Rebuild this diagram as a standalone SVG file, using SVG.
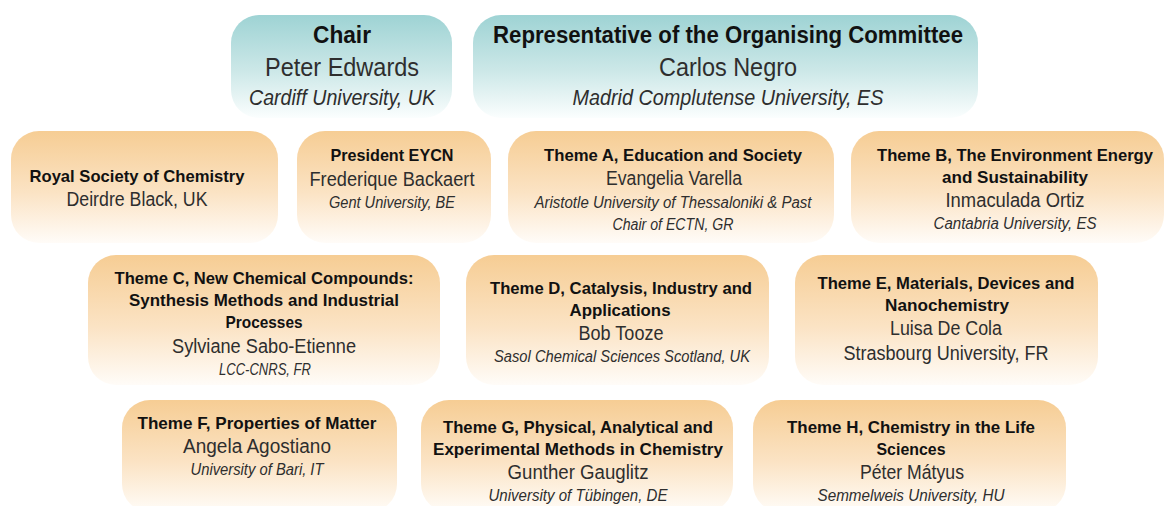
<svg xmlns="http://www.w3.org/2000/svg" width="1165" height="506" viewBox="0 0 1165 506">
<defs>
<linearGradient id="gTeal" x1="0" y1="0" x2="0" y2="1">
<stop offset="0" stop-color="#9ed3d4"/>
<stop offset="0.55" stop-color="#cde8e8"/>
<stop offset="1" stop-color="#fbfefe"/>
</linearGradient>
<linearGradient id="gOr" x1="0" y1="0" x2="0" y2="1">
<stop offset="0" stop-color="#f6cd94"/>
<stop offset="0.55" stop-color="#fbe3c4"/>
<stop offset="1" stop-color="#fffcf8"/>
</linearGradient>
<style>
.teal{fill:url(#gTeal)}
.or{fill:url(#gOr)}
text{font-family:"Liberation Sans",Arial,sans-serif;text-anchor:middle}
.hb{font-weight:bold;font-size:23px;fill:#111}
.hn{font-size:26px;fill:#2e2e2e}
.hi{font-style:italic;font-size:22px;fill:#2e2e2e}
.b{font-weight:bold;font-size:17px;fill:#111}
.n{font-size:20px;fill:#2e2e2e}
.i{font-style:italic;font-size:16px;fill:#2e2e2e}
</style>
</defs>
<rect width="1165" height="506" fill="#ffffff"/>
<g id="chair">
<rect class="teal" x="231" y="15" width="221" height="103" rx="28"/>
<text class="hb" x="342" y="43" textLength="58" lengthAdjust="spacingAndGlyphs">Chair</text>
<text class="hn" x="342" y="76" textLength="154" lengthAdjust="spacingAndGlyphs">Peter Edwards</text>
<text class="hi" x="342" y="105" textLength="186" lengthAdjust="spacingAndGlyphs">Cardiff University, UK</text>
</g>
<g id="representative">
<rect class="teal" x="473" y="15" width="505" height="103" rx="28"/>
<text class="hb" x="728" y="43" textLength="470" lengthAdjust="spacingAndGlyphs">Representative of the Organising Committee</text>
<text class="hn" x="728" y="76" textLength="138" lengthAdjust="spacingAndGlyphs">Carlos Negro</text>
<text class="hi" x="728" y="105" textLength="311" lengthAdjust="spacingAndGlyphs">Madrid Complutense University, ES</text>
</g>
<g id="rsc">
<rect class="or" x="11" y="131" width="267" height="112" rx="28"/>
<text class="b" x="137" y="182" textLength="215" lengthAdjust="spacingAndGlyphs">Royal Society of Chemistry</text>
<text class="n" x="137" y="206" textLength="141" lengthAdjust="spacingAndGlyphs">Deirdre Black, UK</text>
</g>
<g id="eycn">
<rect class="or" x="297" y="131" width="194" height="112" rx="28"/>
<text class="b" x="392" y="161" textLength="123" lengthAdjust="spacingAndGlyphs">President EYCN</text>
<text class="n" x="392" y="186" textLength="165" lengthAdjust="spacingAndGlyphs">Frederique Backaert</text>
<text class="i" x="392" y="208" textLength="126" lengthAdjust="spacingAndGlyphs">Gent University, BE</text>
</g>
<g id="themeA">
<rect class="or" x="508" y="131" width="326" height="112" rx="28"/>
<text class="b" x="673" y="161" textLength="258" lengthAdjust="spacingAndGlyphs">Theme A, Education and Society</text>
<text class="n" x="674" y="185" textLength="136" lengthAdjust="spacingAndGlyphs">Evangelia Varella</text>
<text class="i" x="673" y="208" textLength="277" lengthAdjust="spacingAndGlyphs">Aristotle University of Thessaloniki &amp; Past</text>
<text class="i" x="673" y="230" textLength="121" lengthAdjust="spacingAndGlyphs">Chair of ECTN, GR</text>
</g>
<g id="themeB">
<rect class="or" x="851" y="131" width="313" height="112" rx="28"/>
<text class="b" x="1015" y="161" textLength="276" lengthAdjust="spacingAndGlyphs">Theme B, The Environment Energy</text>
<text class="b" x="1015" y="183" textLength="146" lengthAdjust="spacingAndGlyphs">and Sustainability</text>
<text class="n" x="1015" y="207" textLength="139" lengthAdjust="spacingAndGlyphs">Inmaculada Ortiz</text>
<text class="i" x="1015" y="229" textLength="163" lengthAdjust="spacingAndGlyphs">Cantabria University, ES</text>
</g>
<g id="themeC">
<rect class="or" x="88" y="255" width="352" height="130" rx="28"/>
<text class="b" x="264" y="284" textLength="299" lengthAdjust="spacingAndGlyphs">Theme C, New Chemical Compounds:</text>
<text class="b" x="264" y="306" textLength="270" lengthAdjust="spacingAndGlyphs">Synthesis Methods and Industrial</text>
<text class="b" x="264" y="328" textLength="77" lengthAdjust="spacingAndGlyphs">Processes</text>
<text class="n" x="264" y="353" textLength="184" lengthAdjust="spacingAndGlyphs">Sylviane Sabo-Etienne</text>
<text class="i" x="265" y="375" textLength="92" lengthAdjust="spacingAndGlyphs">LCC-CNRS, FR</text>
</g>
<g id="themeD">
<rect class="or" x="466" y="255" width="303" height="130" rx="28"/>
<text class="b" x="621" y="294" textLength="262" lengthAdjust="spacingAndGlyphs">Theme D, Catalysis, Industry and</text>
<text class="b" x="620" y="316" textLength="101" lengthAdjust="spacingAndGlyphs">Applications</text>
<text class="n" x="621" y="340" textLength="85" lengthAdjust="spacingAndGlyphs">Bob Tooze</text>
<text class="i" x="622" y="362" textLength="256" lengthAdjust="spacingAndGlyphs">Sasol Chemical Sciences Scotland, UK</text>
</g>
<g id="themeE">
<rect class="or" x="795" y="255" width="303" height="130" rx="28"/>
<text class="b" x="946" y="289" textLength="257" lengthAdjust="spacingAndGlyphs">Theme E, Materials, Devices and</text>
<text class="b" x="947" y="311" textLength="124" lengthAdjust="spacingAndGlyphs">Nanochemistry</text>
<text class="n" x="946" y="335" textLength="112" lengthAdjust="spacingAndGlyphs">Luisa De Cola</text>
<text class="n" x="946" y="360" textLength="205" lengthAdjust="spacingAndGlyphs">Strasbourg University, FR</text>
</g>
<g id="themeF">
<rect class="or" x="122" y="400" width="275" height="112" rx="28"/>
<text class="b" x="257" y="429" textLength="239" lengthAdjust="spacingAndGlyphs">Theme F, Properties of Matter</text>
<text class="n" x="257" y="453" textLength="148" lengthAdjust="spacingAndGlyphs">Angela Agostiano</text>
<text class="i" x="257" y="475" textLength="133" lengthAdjust="spacingAndGlyphs">University of Bari, IT</text>
</g>
<g id="themeG">
<rect class="or" x="421" y="400" width="312" height="112" rx="28"/>
<text class="b" x="578" y="433" textLength="270" lengthAdjust="spacingAndGlyphs">Theme G, Physical, Analytical and</text>
<text class="b" x="578" y="455" textLength="290" lengthAdjust="spacingAndGlyphs">Experimental Methods in Chemistry</text>
<text class="n" x="578" y="479" textLength="141" lengthAdjust="spacingAndGlyphs">Gunther Gauglitz</text>
<text class="i" x="578" y="501" textLength="179" lengthAdjust="spacingAndGlyphs">University of Tübingen, DE</text>
</g>
<g id="themeH">
<rect class="or" x="753" y="400" width="313" height="112" rx="28"/>
<text class="b" x="911" y="433" textLength="248" lengthAdjust="spacingAndGlyphs">Theme H, Chemistry in the Life</text>
<text class="b" x="911" y="455" textLength="69" lengthAdjust="spacingAndGlyphs">Sciences</text>
<text class="n" x="912" y="479" textLength="104" lengthAdjust="spacingAndGlyphs">Péter Mátyus</text>
<text class="i" x="911" y="501" textLength="187" lengthAdjust="spacingAndGlyphs">Semmelweis University, HU</text>
</g>
<g id="connectors"></g>
</svg>
